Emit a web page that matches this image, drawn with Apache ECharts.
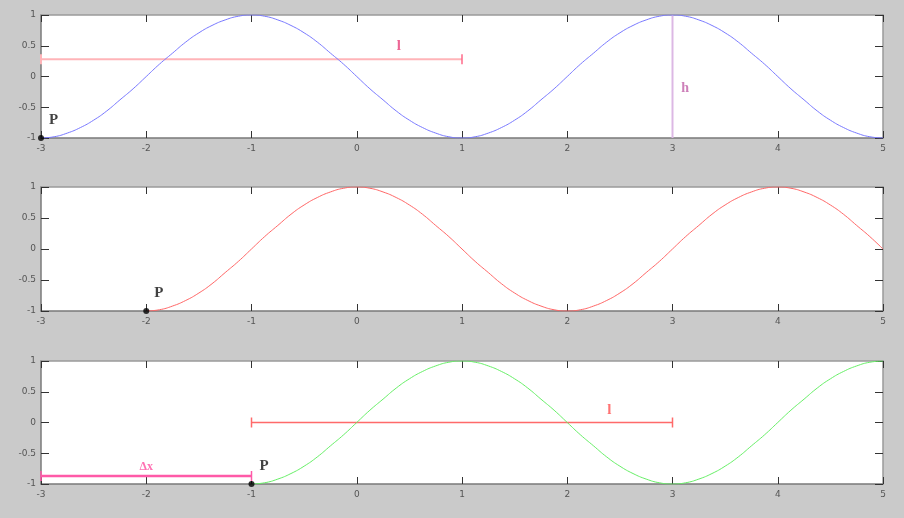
<!DOCTYPE html>
<html><head><meta charset="utf-8">
<script src="https://cdn.jsdelivr.net/npm/echarts@6/dist/echarts.min.js"></script>
<style>html,body{margin:0;padding:0;background:#cacaca}#c{width:904px;height:518px}</style>
</head><body><div id="c"></div>
<script>
// sampled x positions (step 0.125)
const xTop = [-3,-2.875,-2.75,-2.625,-2.5,-2.375,-2.25,-2.125,-2,-1.875,-1.75,-1.625,-1.5,-1.375,-1.25,-1.125,-1,-0.875,-0.75,-0.625,-0.5,-0.375,-0.25,-0.125,0,0.125,0.25,0.375,0.5,0.625,0.75,0.875,1,1.125,1.25,1.375,1.5,1.625,1.75,1.875,2,2.125,2.25,2.375,2.5,2.625,2.75,2.875,3,3.125,3.25,3.375,3.5,3.625,3.75,3.875,4,4.125,4.25,4.375,4.5,4.625,4.75,4.875,5];
const yTop = [-1,-0.98,-0.92,-0.83,-0.71,-0.56,-0.38,-0.2,0,0.2,0.38,0.56,0.71,0.83,0.92,0.98,1,0.98,0.92,0.83,0.71,0.56,0.38,0.2,0,-0.2,-0.38,-0.56,-0.71,-0.83,-0.92,-0.98,-1,-0.98,-0.92,-0.83,-0.71,-0.56,-0.38,-0.2,0,0.2,0.38,0.56,0.71,0.83,0.92,0.98,1,0.98,0.92,0.83,0.71,0.56,0.38,0.2,0,-0.2,-0.38,-0.56,-0.71,-0.83,-0.92,-0.98,-1];
const xMid = [-2,-1.875,-1.75,-1.625,-1.5,-1.375,-1.25,-1.125,-1,-0.875,-0.75,-0.625,-0.5,-0.375,-0.25,-0.125,0,0.125,0.25,0.375,0.5,0.625,0.75,0.875,1,1.125,1.25,1.375,1.5,1.625,1.75,1.875,2,2.125,2.25,2.375,2.5,2.625,2.75,2.875,3,3.125,3.25,3.375,3.5,3.625,3.75,3.875,4,4.125,4.25,4.375,4.5,4.625,4.75,4.875,5];
const yMid = [-1,-0.98,-0.92,-0.83,-0.71,-0.56,-0.38,-0.2,0,0.2,0.38,0.56,0.71,0.83,0.92,0.98,1,0.98,0.92,0.83,0.71,0.56,0.38,0.2,0,-0.2,-0.38,-0.56,-0.71,-0.83,-0.92,-0.98,-1,-0.98,-0.92,-0.83,-0.71,-0.56,-0.38,-0.2,0,0.2,0.38,0.56,0.71,0.83,0.92,0.98,1,0.98,0.92,0.83,0.71,0.56,0.38,0.2,0];
const xBot = [-1,-0.875,-0.75,-0.625,-0.5,-0.375,-0.25,-0.125,0,0.125,0.25,0.375,0.5,0.625,0.75,0.875,1,1.125,1.25,1.375,1.5,1.625,1.75,1.875,2,2.125,2.25,2.375,2.5,2.625,2.75,2.875,3,3.125,3.25,3.375,3.5,3.625,3.75,3.875,4,4.125,4.25,4.375,4.5,4.625,4.75,4.875,5];
const yBot = [-1,-0.98,-0.92,-0.83,-0.71,-0.56,-0.38,-0.2,0,0.2,0.38,0.56,0.71,0.83,0.92,0.98,1,0.98,0.92,0.83,0.71,0.56,0.38,0.2,0,-0.2,-0.38,-0.56,-0.71,-0.83,-0.92,-0.98,-1,-0.98,-0.92,-0.83,-0.71,-0.56,-0.38,-0.2,0,0.2,0.38,0.56,0.71,0.83,0.92,0.98,1];

// annotations
const topL = [[-3,0.28],[1,0.28]];
const topH = [[3,-1],[3,1]];
const botL = [[-1,0],[3,0]];
const botDx = [[-3,-0.87],[-1,-0.87]];
const pointsP = [[-3,-1],[-2,-1],[-1,-1]];
const textTop = [{t:'l',x:0.4,y:0.5},{t:'h',x:3.12,y:-0.2}];
const textBot = [{t:'l',x:2.4,y:0.2},{t:'Δx',x:-2,y:-0.72}];

const grids = [
  {left:41,right:21,top:15,height:123},
  {left:41,right:21,top:187,height:124},
  {left:41,right:21,top:361,height:123}
];
const axLine = {show:true,onZero:false,lineStyle:{color:'#7a7a7a',width:1.5}};
const axLine2 = {show:true,onZero:false,lineStyle:{color:'#9a9a9a',width:1.5}};
const xAxes=[], yAxes=[];
grids.forEach((g,i)=>{
  xAxes.push({gridIndex:i,type:'value',min:-3,max:5,interval:1,position:'bottom',
    axisLine:axLine,axisTick:{show:true,inside:true,length:7,lineStyle:{color:'#333'}},
    splitLine:{show:false},axisLabel:{color:'#555',fontSize:9,margin:6,fontFamily:'DejaVu Sans'}});
  xAxes.push({gridIndex:i,type:'value',min:-3,max:5,interval:1,position:'top',
    axisLine:axLine2,axisTick:{show:true,inside:true,length:7,lineStyle:{color:'#333'}},
    splitLine:{show:false},axisLabel:{show:false}});
  yAxes.push({gridIndex:i,type:'value',min:-1,max:1,interval:0.5,position:'left',
    axisLine:axLine,axisTick:{show:true,inside:true,length:8,lineStyle:{color:'#333'}},
    splitLine:{show:false},axisLabel:{color:'#555',fontSize:9,margin:5,fontFamily:'DejaVu Sans'}});
  yAxes.push({gridIndex:i,type:'value',min:-1,max:1,interval:0.5,position:'right',
    axisLine:axLine2,axisTick:{show:true,inside:true,length:8,lineStyle:{color:'#333'}},
    splitLine:{show:false},axisLabel:{show:false}});
});
function zip(xs,ys){return xs.map((x,i)=>[x,ys[i]]);}
function curve(i,xs,ys,color){
  return {type:'line',xAxisIndex:2*i,yAxisIndex:2*i,data:zip(xs,ys),smooth:true,showSymbol:false,
    lineStyle:{color:color,width:1},silent:true,z:3};
}
function seg(i,pts,color,w,caps){
  return {type:'line',xAxisIndex:2*i,yAxisIndex:2*i,data:pts,clip:false,
    symbol:caps?'rect':'none',symbolSize:[1.5,10],showSymbol:!!caps,itemStyle:{color:color},
    lineStyle:{color:color,width:w},silent:true,z:2};
}
function texts(i,arr,color,size){
  return {type:'scatter',xAxisIndex:2*i,yAxisIndex:2*i,symbolSize:0,silent:true,z:6,
    data:arr.map(d=>({value:[d.x,d.y],label:{show:true,formatter:d.t,position:'inside',
      color:color,fontSize:size,fontWeight:'bold',fontFamily:'Liberation Serif'}}))};
}
function pointP(i,p){
  return {type:'scatter',xAxisIndex:2*i,yAxisIndex:2*i,clip:false,symbolSize:6,z:7,silent:true,
    itemStyle:{color:'#000'},data:[p],
    label:{show:true,formatter:'P',position:'insideBottomLeft',offset:[6,-8],
      color:'#111',fontSize:15,fontWeight:'bold',fontFamily:'Liberation Serif'}};
}
const series = [
  curve(0,xTop,yTop,'#7878ff'),
  seg(0,topL,'#ffb4b8',2,false),
  {type:'line',xAxisIndex:0,yAxisIndex:0,data:[topL[1]],symbol:'rect',symbolSize:[1.5,10],clip:false,itemStyle:{color:'#ff6a8a'},silent:true,z:3},
  {type:'line',xAxisIndex:0,yAxisIndex:0,data:[topL[0]],symbol:'rect',symbolSize:[2,10],clip:false,itemStyle:{color:'#ffb4b8'},silent:true,z:1},
  seg(0,topH,'#dcb8e4',2,false),
  texts(0,[textTop[0]],'#e8407a',15),
  texts(0,[textTop[1]],'#c060a8',14),
  pointP(0,pointsP[0]),
  curve(1,xMid,yMid,'#ff6666'),
  pointP(1,pointsP[1]),
  curve(2,xBot,yBot,'#66ee66'),
  seg(2,botL,'#ff6a6a',1.5,true),
  seg(2,botDx,'#ff5aa8',2.5,true),
  texts(2,[textBot[0]],'#ff5050',15),
  texts(2,[textBot[1]],'#ff4fa0',12),
  pointP(2,pointsP[2])
];
const chart = echarts.init(document.getElementById('c'),null,{renderer:'canvas'});
chart.setOption({backgroundColor:'#cacaca',animation:false,
  grid:grids.map(g=>Object.assign({backgroundColor:'#fff',show:true,borderWidth:0},g)),
  xAxis:xAxes,yAxis:yAxes,series:series});
</script></body></html>
